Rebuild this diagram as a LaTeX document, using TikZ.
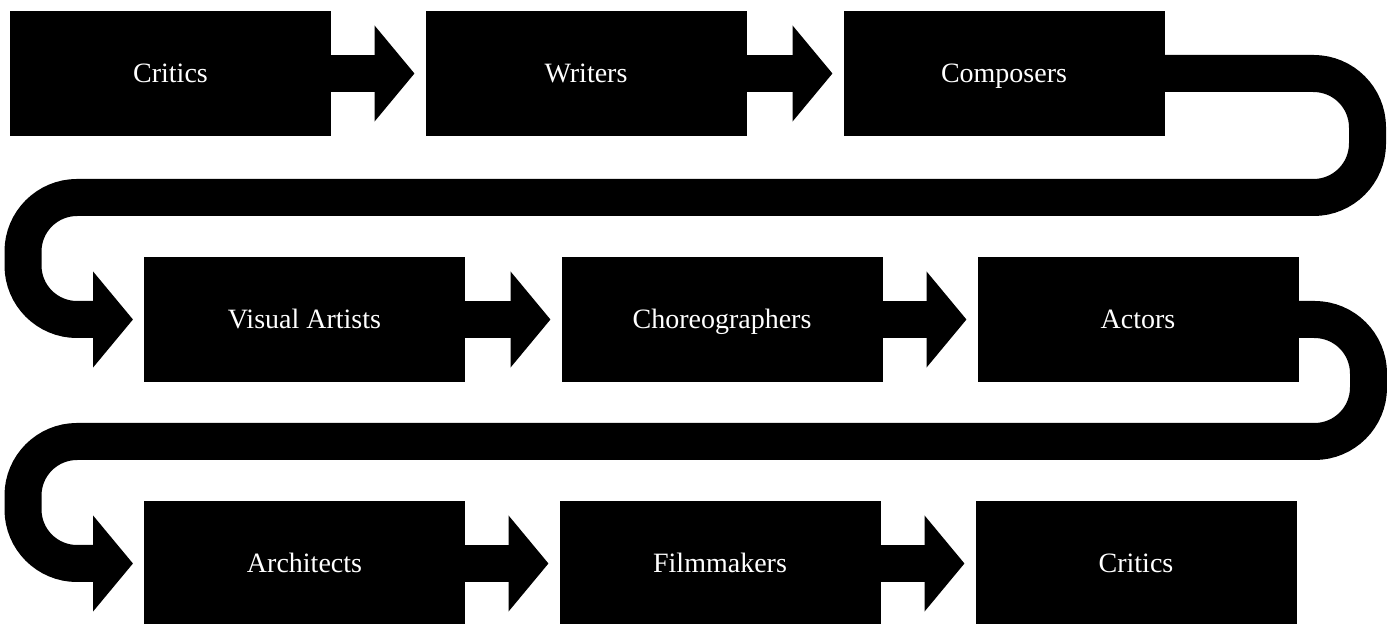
\documentclass[tikz,border=0pt]{standalone}
\usepackage{fontspec}
\setmainfont{Liberation Serif}
\usetikzlibrary{arrows.meta,calc,positioning}

\begin{document}
\begin{tikzpicture}[
    x=0.5pt, y=-0.5pt,
    stage/.style={
        rectangle, fill=black, text=white,
        minimum width=160.5pt, minimum height=62.5pt,
        inner sep=0, outer sep=0, text height=9.3pt, text depth=0pt,
        font=\fontsize{14}{16}\selectfont},
    flow/.style={line width=18.5pt, -{Triangle[length=20pt, width=47pt]}, shorten >=5.5pt},
    turn/.style={flow, rounded corners=27pt}]
\useasboundingbox (0,0) rectangle (1387,624);

\node[stage] (critA) at (170.5,73.5) {Critics};
\node[stage] (writ)  at (586,73.5)   {Writers};
\node[stage] (comp)  at (1004,73.5)  {Composers};

\node[stage] (vis)   at (304.5,319.5) {Visual Artists};
\node[stage] (chor)  at (722,319.5)   {Choreographers};
\node[stage] (act)   at (1138,319.5)  {Actors};

\node[stage] (arch)  at (304.5,563.5) {Architects};
\node[stage] (film)  at (720,563.5)   {Filmmakers};
\node[stage] (critB) at (1136,563.5)  {Critics};

\path[draw, flow] (critA) -- (writ);
\path[draw, flow] (writ) -- (comp);
\path[draw, turn] (comp.east) -- ++(203,0) -- ++(0,124) -- (23,197.5) |- (vis.west);

\path[draw, flow] (vis) -- (chor);
\path[draw, flow] (chor) -- (act);
\path[draw, turn] (act.east) -- ++(70,0) -- ++(0,122) -- (23,441.5) |- (arch.west);

\path[draw, flow] (arch) -- (film);
\path[draw, flow] (film) -- (critB);

\end{tikzpicture}
\end{document}
